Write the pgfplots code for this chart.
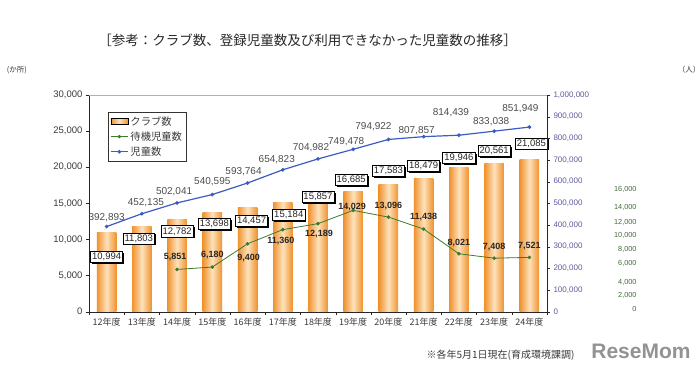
\documentclass[border=0pt]{standalone}
\usepackage{fontspec}
\setmainfont{Liberation Sans}
\newfontfamily\jp{Noto Sans CJK JP}
\usepackage{pgfplots}
\usepackage{pgfplotstable}
\pgfplotsset{compat=1.18}
\usetikzlibrary{shadows}
\definecolor{barD}{HTML}{F0922E}
\definecolor{barL}{HTML}{FDE2BC}
\definecolor{blueL}{HTML}{3C5CC4}
\definecolor{greenL}{HTML}{3F7A2A}
\definecolor{blueT}{HTML}{5C5C9C}
\definecolor{greenT}{HTML}{3E6A34}
\definecolor{txt}{HTML}{3A3A3A}

\pgfplotstableread{
x y dx dy
0 10994 0 -25
1 11803 -3 -12
2 12782 0 -12
3 13698 2 -11
4 14457 4 -14
5 15184 6 -13
6 15857 0 0
7 16685 -2 11
8 17583 0 14
9 18479 0 12
10 19946 0 10
11 20561 0 12
12 21085 2 16
}\bars

\pgfplotstableread{
x y dx dy
0 392893 0 9
1 452135 4 11
2 502041 -3 11
3 540595 0 13
4 593764 -4 11
5 654823 -6 10
6 704982 -7 11
7 749478 -7 8
8 794922 -15 13
9 807857 -7 6
10 814439 -8 23
11 833038 -3 10
12 851949 -9 18
}\blue

\pgfplotstableread{
x y dx dy
2 5851 -2 12
3 6180 0 12
4 9400 1 -14
5 11360 -2 -11
6 12189 1 -10
7 14029 -1 3
8 13096 0 11
9 11438 0 12
10 8021 0 11
11 7408 0 11
12 7521 0 11
}\green

\pgfplotsset{
  base/.style={width=458pt, height=216.7pt, scale only axis,
    xmin=-0.5, xmax=12.5, at={(0pt,0pt)}, anchor=south west,
    scaled y ticks=false,
    /pgf/number format/assume math mode=true,
    /pgf/number format/fixed,
    /pgf/number format/precision=0,
    /pgf/number format/1000 sep={,}},
}

\begin{document}
\begin{tikzpicture}
\useasboundingbox (-89pt,-57.3pt) rectangle (611pt,311.7pt);

% left axis: bars and waiting children
\begin{axis}[base,
  ymin=0, ymax=30000, ytick={0,5000,...,30000},
  axis x line*=bottom, axis y line*=left,
  axis line style={black!85},
  tick align=outside, major tick length=3pt,
  tick style={black!85},
  xtick={-0.5,0.5,...,12.5}, xticklabels={},
  extra x ticks={0,1,...,12},
  extra x tick labels={12年度,13年度,14年度,15年度,16年度,17年度,18年度,19年度,20年度,21年度,22年度,23年度,24年度},
  extra x tick style={major tick length=0pt, tick label style={font=\jp\fontsize{9}{10}\selectfont, text=txt, yshift=-3pt}},
  y tick label style={font=\fontsize{9.5}{11}\selectfont, text=txt},
  legend style={at={(0.0415,0.9215)}, anchor=north west, draw=black!80,
    font=\jp\fontsize{10.3}{12}\selectfont, inner sep=2pt, row sep=1pt, text=txt},
  legend cell align=left,
]
\pgfplotsinvokeforeach{0,...,12}{
  \addplot[ybar, bar width=19.5pt, bar shift=0pt, draw=none,
    left color=barD, right color=barD, middle color=barL, forget plot,
    restrict x to domain=#1:#1]
    table[x=x,y=y]{\bars};
}
\addplot[greenL, line width=0.8pt, mark=*, mark size=1.4pt, forget plot,
  nodes near coords,
  visualization depends on={\thisrow{dx}\as\dx},
  visualization depends on={\thisrow{dy}\as\dy},
  every node near coord/.append style={anchor=center, xshift=\dx pt, yshift=\dy pt,
    font=\bfseries\fontsize{9}{10}\selectfont, text=black!85, inner sep=0pt}]
  table[x=x,y=y]{\green};
\addplot[draw=none, mark=none, forget plot,
  nodes near coords,
  visualization depends on={\thisrow{dx}\as\dx},
  visualization depends on={\thisrow{dy}\as\dy},
  every node near coord/.append style={anchor=center, xshift=\dx pt, yshift=\dy pt,
    font=\fontsize{9.5}{11}\selectfont, text=black!85, draw=black, fill=white,
    inner sep=1.6pt, line width=0.7pt,
    drop shadow={shadow xshift=1.5pt, shadow yshift=-1.5pt, fill=black, opacity=1}}]
  table[x=x,y=y]{\bars};
\addlegendimage{area legend, draw=none, left color=barD, right color=barD, middle color=barL}
\addlegendimage{greenL, line width=0.8pt, mark=*, mark size=1.3pt}
\addlegendimage{blueL, line width=1.2pt, mark=*, mark size=1.2pt}
\legend{クラブ数,待機児童数,児童数}
\end{axis}

% right axis: registered children
\begin{axis}[base,
  ymin=0, ymax=1000000, ytick={0,100000,...,1000000},
  axis y line*=right, axis x line=none,
  axis line style={black!85}, tick style={black!85},
  tick align=outside, major tick length=3pt,
  y tick label style={font=\fontsize{8}{9}\selectfont, text=blueT},
]
\addplot[blueL, line width=1.2pt, mark=*, mark size=1.2pt,
  nodes near coords,
  visualization depends on={\thisrow{dx}\as\dx},
  visualization depends on={\thisrow{dy}\as\dy},
  every node near coord/.append style={anchor=center, xshift=\dx pt, yshift=\dy pt,
    font=\fontsize{10}{11}\selectfont, text=black!70, inner sep=0pt}]
  table[x=x,y=y]{\blue};
\end{axis}

% far right axis labels (waiting children)
\begin{axis}[base,
  ymin=0, ymax=30000,
  axis y line*=right, axis x line=none,
  y axis line style={draw=none}, major tick length=0pt,
  ytick={332,2215,4112,6645,8639,10577,12377,14398,16945},
  yticklabels={0,{2,000},{4,000},{6,000},{8,000},{10,000},{12,000},{14,000},{16,000}},
  y tick label style={anchor=east, xshift=93pt, font=\fontsize{7.3}{8}\selectfont, text=greenT},
]
\addplot[draw=none] coordinates {(0,0)};
\end{axis}

\draw[black!30] (0pt,216.7pt) -- (458pt,216.7pt);

\node[font=\jp\fontsize{13.5}{15}\selectfont, text=black!85] at (218.5pt,271.7pt)
  {［参考：クラブ数、登録児童数及び利用できなかった児童数の推移］};
\node[font=\jp\fontsize{7.5}{9}\selectfont, text=txt] at (-72pt,241.7pt) {(か所)};
\node[font=\jp\fontsize{7.5}{9}\selectfont, text=txt] at (600pt,241.7pt) {（人）};
\node[font=\jp\fontsize{10}{12}\selectfont, text=txt, anchor=west] at (334pt,-43.3pt)
  {※各年5月1日現在(育成環境課調)};
\node[font=\bfseries\fontsize{21}{22}\selectfont, text=gray, opacity=0.85] at (552pt,-40pt) {ReseMom};
\end{tikzpicture}
\end{document}
